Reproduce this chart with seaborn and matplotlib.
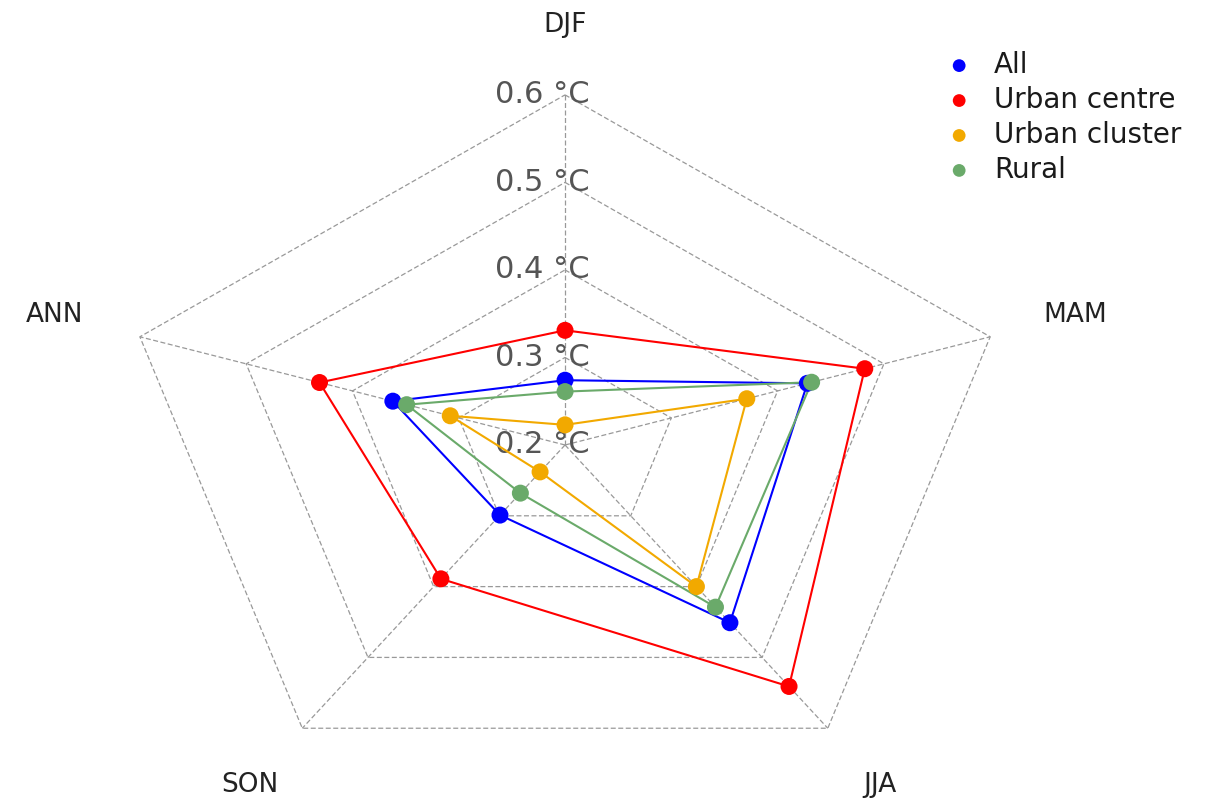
import numpy as np
import pandas as pd
import matplotlib
matplotlib.use("Agg")
import matplotlib.pyplot as plt
import seaborn as sns

# Seasonal warming signal per settlement class (°C)
seasons = ["DJF", "MAM", "JJA", "SON", "ANN"]
series_names = ["All", "Urban centre", "Urban cluster", "Rural"]
all_vals = [0.274, 0.428, 0.451, 0.299, 0.362]
urban_centre_vals = [0.331, 0.482, 0.541, 0.389, 0.431]
urban_cluster_vals = [0.223, 0.371, 0.400, 0.238, 0.308]
rural_vals = [0.261, 0.432, 0.429, 0.268, 0.349]
ring_values = [0.2, 0.3, 0.4, 0.5, 0.6]
ring_labels = ["0.2 °C", "0.3 °C", "0.4 °C", "0.5 °C", "0.6 °C"]
colors = ["#0000ff", "#ff0000", "#f2a900", "#6aaa6a"]

sns.set_theme(style="white")
plt.rcParams["font.family"] = ["DejaVu Sans"]

vmin, vmax = ring_values[0], ring_values[-1]
n = len(seasons)
# spokes start at the top and run clockwise
angles = np.deg2rad(90 - 72 * np.arange(n))


def to_xy(values):
    r = (np.asarray(values) - vmin) / (vmax - vmin)
    return r * np.cos(angles), r * np.sin(angles)


fig = plt.figure(figsize=(12.32, 8.0), dpi=100)
ax = fig.add_axes([0, 0, 1, 1])

grid_kw = dict(color="#999999", lw=0.9, ls=(0, (4, 2)), zorder=1)
# concentric pentagons
for k in range(1, len(ring_values)):
    rr = k / (len(ring_values) - 1)
    gx = np.append(rr * np.cos(angles), rr * np.cos(angles[0]))
    gy = np.append(rr * np.sin(angles), rr * np.sin(angles[0]))
    ax.plot(gx, gy, **grid_kw)
# spokes
for a in angles:
    ax.plot([0, np.cos(a)], [0, np.sin(a)], **grid_kw)

# ring value labels
for k, lab in enumerate(ring_labels):
    rr = k / (len(ring_labels) - 1)
    ax.text(-0.05, rr, lab, ha="center", va="center", fontsize=22,
            color="#555555", zorder=2)

# season labels
for a, s in zip(angles, seasons):
    ax.text(1.2 * np.cos(a), 1.2 * np.sin(a), s, ha="center", va="center",
            fontsize=19, color="#222222")

rows = []
for name, vals in zip(series_names,
                      [all_vals, urban_centre_vals, urban_cluster_vals, rural_vals]):
    x, y = to_xy(vals)
    for i in range(n + 1):
        j = i % n
        rows.append({"series": name, "x": x[j], "y": y[j], "season": seasons[j],
                     "closing": i == n})
df = pd.DataFrame(rows)
palette = dict(zip(series_names, colors))

for name in series_names:
    sub = df[df["series"] == name]
    sns.lineplot(data=sub, x="x", y="y", sort=False, estimator=None,
                 color=palette[name], lw=1.5, ax=ax, legend=False, zorder=3)
    sns.scatterplot(data=sub[~sub["closing"]], x="x", y="y", color=palette[name],
                    s=150, edgecolor="none", ax=ax, label=name, zorder=4)

ax.set_xlim(-1.264, 1.492)
ax.set_ylim(-1.014, 1.271)
ax.set_axis_off()

handles, labels = ax.get_legend_handles_labels()
leg = ax.legend(handles, labels, loc="upper left",
                bbox_to_anchor=(930 / 1232, 1 - 37 / 800),
                bbox_transform=fig.transFigure, frameon=False, fontsize=20,
                markerscale=0.75, handletextpad=0.7, labelspacing=0.25,
                borderpad=0, handlelength=1.1)
for t in leg.get_texts():
    t.set_color("#1a1a1a")

fig.savefig("out.png", dpi=100, facecolor="white")
